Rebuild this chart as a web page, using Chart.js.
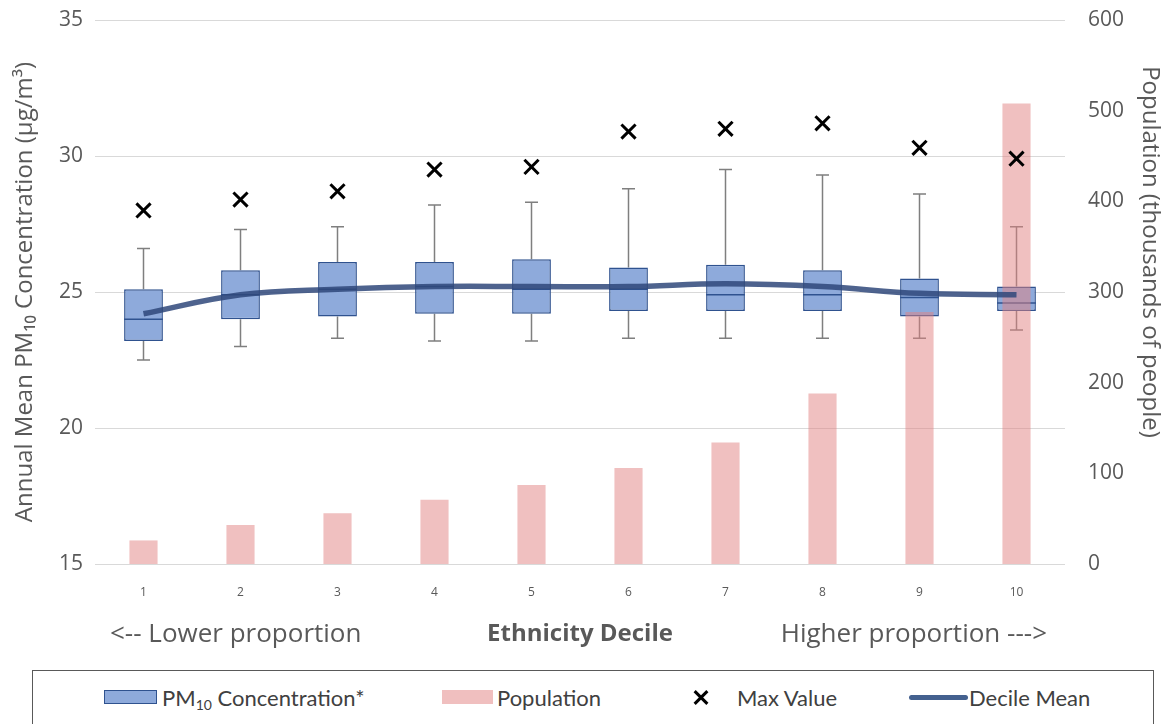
<!DOCTYPE html>
<html>
<head>
<meta charset="utf-8">
<script src="https://cdn.jsdelivr.net/npm/chart.js@4/dist/chart.umd.min.js"></script>
<style>
body{margin:0;background:#fff;width:1168px;height:724px;overflow:hidden;position:relative;font-family:'Open Sans',sans-serif}
#wrap{position:absolute;left:0;top:0;width:1168px;height:660px}
#legend{position:absolute;left:32px;top:670px;width:1122px;height:80px;border:1px solid #595959;box-sizing:border-box}
.it{position:absolute;top:685px;height:26px;line-height:26px;font-family:Lato,sans-serif;font-size:22px;color:#404040;white-space:nowrap}
.ic{position:absolute;box-sizing:border-box}
</style>
</head>
<body>
<div id="wrap"><canvas id="chart"></canvas></div>
<div id="legend"></div>
<div class="ic" style="left:104px;top:690px;width:53px;height:14px;background:#8eaadb;border:1.5px solid #2f528f"></div>
<div class="it" style="left:162px">PM<span style="font-size:14px;position:relative;top:4px">10</span> Concentration*</div>
<div class="ic" style="left:442px;top:690px;width:51px;height:14px;background:#f0bfbf"></div>
<div class="it" style="left:497px">Population</div>
<div class="ic" style="left:694px;top:690px;width:14px;height:14px">
  <div style="position:absolute;left:-2px;top:5.5px;width:18px;height:3px;background:#000;transform:rotate(45deg)"></div>
  <div style="position:absolute;left:-2px;top:5.5px;width:18px;height:3px;background:#000;transform:rotate(-45deg)"></div>
</div>
<div class="it" style="left:737px">Max Value</div>
<div class="ic" style="left:909px;top:695px;width:59px;height:5px;border-radius:3px;background:#44618f"></div>
<div class="it" style="left:969px">Decile Mean</div>
<script>
// ethnicity deciles
var deciles = ['1', '2', '3', '4', '5', '6', '7', '8', '9', '10'];
// PM10 box plot parts (ug/m3)
var whiskerLow  = [22.5, 23.0, 23.3, 23.2, 23.2, 23.3, 23.3, 23.3, 23.3, 23.6];
var quart1      = [23.2, 24.0, 24.1, 24.2, 24.2, 24.3, 24.3, 24.3, 24.1, 24.3];
var medians     = [24.0, 24.9, 25.1, 25.2, 25.1, 25.1, 24.9, 24.9, 24.8, 24.6];
var quart3      = [25.1, 25.8, 26.1, 26.1, 26.2, 25.9, 26.0, 25.8, 25.5, 25.2];
var whiskerHigh = [26.6, 27.3, 27.4, 28.2, 28.3, 28.8, 29.5, 29.3, 28.6, 27.4];
var maxValue    = [28.0, 28.4, 28.7, 29.5, 29.6, 30.9, 31.0, 31.2, 30.3, 29.9];
var decileMean  = [24.2, 24.9, 25.1, 25.2, 25.2, 25.2, 25.3, 25.2, 24.95, 24.9];
// population, thousands of people
var population  = [26, 43, 56, 71, 87, 106, 134, 188, 278, 508];
// axis ticks
var pmTicks  = [15, 20, 25, 30, 35];
var popTicks = [0, 100, 200, 300, 400, 500, 600];

var grey = '#595959';
var boxIndex = 3;

var boxParts = {
    id: 'boxParts',
    beforeDatasetDraw: function (chart, args) {
        if (args.index !== boxIndex) return;
        var ctx = chart.ctx, y = chart.scales.y;
        ctx.save();
        ctx.strokeStyle = '#7f7f7f';
        ctx.lineWidth = 1.5;
        chart.getDatasetMeta(boxIndex).data.forEach(function (bar, i) {
            var x = bar.x, cap = 6.5;
            var lo = y.getPixelForValue(whiskerLow[i]), hi = y.getPixelForValue(whiskerHigh[i]);
            ctx.beginPath();
            ctx.moveTo(x, lo); ctx.lineTo(x, y.getPixelForValue(quart1[i]));
            ctx.moveTo(x, hi); ctx.lineTo(x, y.getPixelForValue(quart3[i]));
            ctx.moveTo(x - cap, lo); ctx.lineTo(x + cap, lo);
            ctx.moveTo(x - cap, hi); ctx.lineTo(x + cap, hi);
            ctx.stroke();
        });
        ctx.restore();
    },
    afterDatasetDraw: function (chart, args) {
        if (args.index !== boxIndex) return;
        var ctx = chart.ctx, y = chart.scales.y;
        ctx.save();
        ctx.strokeStyle = '#2f528f';
        ctx.lineWidth = 1.5;
        chart.getDatasetMeta(boxIndex).data.forEach(function (bar, i) {
            var m = y.getPixelForValue(medians[i]);
            ctx.beginPath();
            ctx.moveTo(bar.x - bar.width / 2, m); ctx.lineTo(bar.x + bar.width / 2, m);
            ctx.stroke();
        });
        ctx.restore();
    }
};

var sideTexts = {
    id: 'sideTexts',
    afterDraw: function (chart) {
        var ctx = chart.ctx, a = chart.chartArea;
        ctx.save();
        ctx.fillStyle = grey;
        ctx.font = '26px "Open Sans"';
        ctx.textBaseline = 'middle';
        ctx.textAlign = 'left';
        ctx.fillText('<-- Lower proportion', a.left + 15, 635);
        ctx.textAlign = 'right';
        ctx.fillText('Higher proportion --->', a.right - 18, 635);
        ctx.translate(1150, 252);
        ctx.rotate(Math.PI / 2);
        ctx.textAlign = 'center';
        ctx.font = '24px "Open Sans"';
        ctx.fillText('Population (thousands of people)', 0, 0);
        ctx.restore();
    }
};

var boxes = quart1.map(function (v, i) { return [v, quart3[i]]; });

new Chart(document.getElementById('chart'), {
    type: 'bar',
    data: {
        labels: deciles,
        datasets: [
            {
                type: 'line', label: 'Decile Mean', data: decileMean, yAxisID: 'y',
                borderColor: 'rgba(47,72,122,0.85)', borderWidth: 5.5, tension: 0.4,
                pointRadius: 0, order: 0
            },
            {
                type: 'line', label: 'Max Value', data: maxValue, yAxisID: 'y',
                showLine: false, pointStyle: 'crossRot', pointRadius: 10,
                borderColor: '#000', borderWidth: 3, order: 0
            },
            {
                label: 'Population', data: population, yAxisID: 'y2', grouped: false,
                backgroundColor: 'rgba(226,130,130,0.5)', borderWidth: 0,
                barPercentage: 0.29, categoryPercentage: 1, order: 1
            },
            {
                label: 'PM10 Concentration*', data: boxes, yAxisID: 'y', grouped: false,
                backgroundColor: '#8eaadb', borderColor: '#2f528f', borderWidth: 1.5,
                borderSkipped: false, barPercentage: 0.4, categoryPercentage: 1, order: 2
            }
        ]
    },
    options: {
        responsive: true,
        maintainAspectRatio: false,
        animation: false,
        layout: {padding: {top: 20, left: 0, right: 0, bottom: 0}},
        plugins: {legend: {display: false}, tooltip: {enabled: false}},
        scales: {
            x: {
                grid: {display: false}, border: {display: false},
                ticks: {color: grey, font: {family: 'Open Sans', size: 12}, padding: 13},
                title: {display: true, text: 'Ethnicity Decile', color: grey,
                    font: {family: 'Open Sans', size: 24, weight: 'bold'}, padding: {top: 0, bottom: 11}},
                afterFit: function (s) { s.height = 96; s.paddingLeft = 0; s.paddingRight = 0; }
            },
            y: {
                min: 15, max: 35,
                afterBuildTicks: function (s) { s.ticks = pmTicks.map(function (v) { return {value: v}; }); },
                grid: {color: '#d9d9d9', drawTicks: false}, border: {display: false},
                ticks: {color: grey, font: {family: 'Open Sans', size: 21}, padding: 12},
                title: {display: true, text: 'Annual Mean PM\u2081\u2080 Concentration (\u00b5g/m\u00b3)', color: grey,
                    font: {family: 'Open Sans', size: 24}, padding: {top: 11, bottom: 0}},
                afterFit: function (s) { s.width = 95; s.paddingTop = 0; s.paddingBottom = 0; }
            },
            y2: {
                position: 'right', min: 0, max: 600,
                afterBuildTicks: function (s) { s.ticks = popTicks.map(function (v) { return {value: v}; }); },
                grid: {display: false, drawTicks: false}, border: {display: false},
                ticks: {color: grey, font: {family: 'Open Sans', size: 21}, padding: 23},
                afterFit: function (s) { s.width = 103; s.paddingTop = 0; s.paddingBottom = 0; }
            }
        }
    },
    plugins: [boxParts, sideTexts]
});
</script>
</body>
</html>
